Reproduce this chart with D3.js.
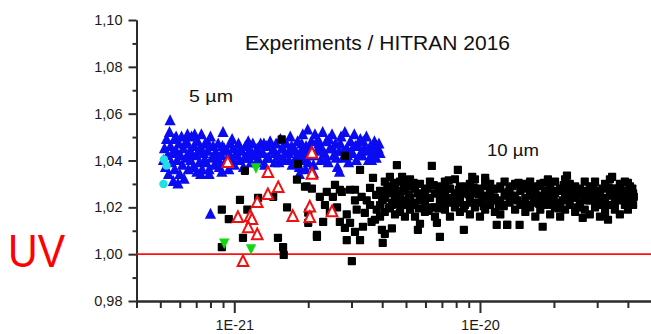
<!DOCTYPE html>
<html>
<head>
<meta charset="utf-8">
<script src="https://cdn.jsdelivr.net/npm/d3@7"></script>
<style>
  html, body { margin: 0; padding: 0; background: #fff; }
  svg { display: block; font-family: Arial, "Liberation Sans", sans-serif; }
</style>
</head>
<body>
<svg id="chart" width="651" height="334"></svg>
<script>
// Line intensity in units of 1E-21 (log axis) vs. ratio Experiments / HITRAN 2016

// 5 µm band (blue up-triangles)
const band5 = [
  [0.515,1.040],[0.52,1.045],[0.525,1.037],[0.53,1.049],[0.535,1.042],[0.54,1.034],[0.545,1.052],[0.548,1.057],
  [0.55,1.046],[0.555,1.039],[0.56,1.043],[0.565,1.031],[0.57,1.049],[0.572,1.036],[0.58,1.044],[0.585,1.040],
  [0.59,1.030],[0.595,1.047],[0.60,1.034],[0.605,1.042],[0.61,1.050],[0.615,1.038],[0.62,1.045],[0.625,1.032],
  [0.635,1.041],[0.64,1.048],[0.645,1.051],[0.65,1.036],[0.66,1.044],[0.665,1.040],[0.67,1.050],[0.68,1.037],
  [0.685,1.046],[0.69,1.051],[0.70,1.042],[0.705,1.035],[0.71,1.048],[0.72,1.039],[0.725,1.045],
  [0.735,1.051],[0.74,1.036],[0.75,1.043],[0.76,1.047],[0.77,1.039],[0.78,1.044],[0.79,1.036],[0.80,1.050],
  [0.81,1.041],[0.82,1.046],[0.83,1.038],[0.845,1.043],[0.86,1.047],[0.87,1.037],[0.885,1.042],[0.90,1.052],
  [0.91,1.045],[0.92,1.039],[0.935,1.044],[0.95,1.036],[0.96,1.047],[0.975,1.041],[0.99,1.045],[1.00,1.038],
  [1.02,1.043],[1.04,1.047],[1.05,1.040],[1.07,1.044],[1.09,1.037],[1.11,1.046],[1.13,1.041],[1.15,1.044],
  [1.17,1.039],[1.19,1.047],[1.21,1.042],[1.24,1.045],[1.26,1.040],[1.28,1.047],[1.31,1.043],[1.33,1.038],
  [1.35,1.046],[1.38,1.041],[1.40,1.048],[1.43,1.044],[1.46,1.039],[1.48,1.047],[1.51,1.042],[1.54,1.049],
  [1.57,1.045],[1.60,1.040],[1.63,1.047],[1.66,1.043],[1.69,1.050],[1.72,1.038],[1.75,1.045],[1.78,1.041],
  [1.81,1.048],[1.84,1.037],[1.87,1.044],[1.90,1.051],[1.93,1.040],[1.96,1.046],[1.99,1.053],[2.02,1.042],
  [2.06,1.048],[2.10,1.038],[2.13,1.051],[2.17,1.044],[2.21,1.047],[2.25,1.040],[2.29,1.052],[2.33,1.043],
  [2.37,1.048],[2.41,1.039],[2.45,1.045],[2.50,1.051],[2.54,1.042],[2.58,1.047],[2.63,1.037],[2.68,1.044],
  [2.72,1.050],[2.77,1.041],[2.82,1.052],[2.87,1.045],[2.92,1.039],[2.97,1.048],[3.03,1.043],[3.08,1.051],
  [3.14,1.040],[3.20,1.046],[3.26,1.049],[3.32,1.042],[3.38,1.045],[3.45,1.050],[3.52,1.040],[3.58,1.046],
  [3.65,1.043],[3.72,1.048],[3.78,1.041],[3.85,1.045],[3.92,1.043],
  [0.73,1.034],[0.79,1.034],[0.89,1.035],[1.84,1.034],[2.68,1.035],[1.95,1.036],[2.10,1.0345],[0.80,1.017],
  [0.58,1.050],[0.63,1.047],[0.67,1.043],[0.715,1.044],[0.755,1.040],[0.785,1.047],[0.825,1.042],[0.865,1.040],
  [0.895,1.046],[0.94,1.041],[0.98,1.049],[1.01,1.042],[1.06,1.045],[1.10,1.041],[1.14,1.048],[1.18,1.043],
  [1.23,1.039],[1.27,1.044],[1.32,1.047],[1.36,1.041],[1.42,1.046],[1.47,1.043],[1.52,1.039],[1.56,1.045],
  [1.61,1.043],[1.67,1.040],[1.71,1.046],[1.77,1.044],[1.83,1.042],[1.88,1.047],[1.94,1.043],[2.00,1.039],
  [2.04,1.045],[2.11,1.042],[2.19,1.049],[2.27,1.045],[2.35,1.040],[2.43,1.049],[2.52,1.045],[2.60,1.041],
  [2.70,1.047],[2.79,1.044],[2.89,1.042],[2.99,1.044],[3.11,1.046],[3.23,1.042],[3.35,1.048],[3.48,1.044],
  [3.62,1.040],[3.75,1.045],[3.88,1.047]
];

// 5 µm band, second set (cyan circles)
const band5b = [[0.517,1.0405],[0.53,1.0378],[0.515,1.030]];

// 10 µm band (black squares)
const band10 = [
  // lines among the 5 µm cluster
  [1.56,1.049],[2.82,1.042],[1.82,1.0386],[1.105,1.0356],[1.80,1.0318],[3.25,1.036],[1.97,1.029],[3.67,1.0326],
  // scattered weak lines
  [1.055,1.0232],[1.25,1.024],[1.13,1.019],[0.95,1.015],[0.89,1.019],[1.44,1.0245],[1.64,1.020],[1.085,1.007],
  [0.89,1.003],[1.506,1.007],[1.58,1.003],[1.59,0.9997],[1.94,1.0288],[2.07,1.028],[2.23,1.0245],[2.0,1.0177],
  [2.30,1.0138],[2.0,1.0134],[2.17,1.0082],[2.87,1.006],[3.01,0.997],[2.52,1.0245],[2.62,1.020],[2.87,1.017],
  [2.96,1.0134],[3.34,1.0117],[3.15,1.019],[3.46,1.023],[3.80,1.019],[4.02,1.023],[4.02,1.0048],[4.10,1.0087],
  [3.92,1.016],[2.96,1.0275],[2.45,1.0176],[2.69,1.0275],[3.10,1.023],[3.57,1.0283],[3.74,1.0147],[4.51,1.017],
  [4.38,1.011],[4.62,1.025],[3.40,1.0176],[2.82,1.0112],[2.34,1.021],[3.25,1.006],[2.17,1.0074],[6.87,1.0074],
  [8.6,1.0104],
  [2.57,1.0296],[2.74,1.0266],[3.10,1.0275],[3.30,1.0245],[3.57,1.021],[3.78,1.0253],[4.22,1.0275],[4.38,1.021],
  [2.69,1.0138],[3.10,1.0095],[3.62,1.0138],[2.38,1.0266],
  // main 10 µm band
  [3.92,1.027],[3.92,1.021],[4.10,1.031],[4.10,1.018],[4.10,1.024],[4.30,1.026],[4.30,1.020],[4.30,1.033],
  [4.51,1.029],[4.51,1.023],[4.59,1.038],[4.73,1.025],[4.73,1.018],[4.73,1.031],[4.82,1.033],[4.95,1.027],
  [4.95,1.021],[4.95,1.016],[5.19,1.032],[5.19,1.024],[5.19,1.019],[5.44,1.028],[5.44,1.022],[5.44,1.016],
  [5.70,1.025],[5.70,1.030],[5.70,1.013],[5.97,1.027],[5.97,1.021],[5.97,1.018],[6.26,1.031],[6.26,1.024],
  [6.37,1.0377],[6.56,1.026],[6.56,1.020],[6.56,1.016],[6.87,1.029],[6.87,1.023],[7.20,1.025],[7.20,1.019],
  [7.20,1.031],[7.55,1.028],[7.55,1.022],[7.55,1.016],[7.91,1.026],[7.91,1.032],[7.91,1.020],[8.13,1.036],
  [8.29,1.024],[8.29,1.029],[8.29,1.018],[8.69,1.027],[8.69,1.021],[9.10,1.030],[9.10,1.024],[9.10,1.017],
  [9.3,1.033],[9.54,1.026],[9.54,1.032],[9.54,1.020],[10.0,1.028],[10.0,1.022],[10.0,1.016],[10.5,1.031],
  [10.5,1.025],[10.5,1.019],[10.5,1.0326],[11.0,1.027],[11.0,1.021],[11.0,1.030],[11.5,1.024],[11.5,1.018],
  [11.7,1.0125],[12.1,1.029],[12.1,1.023],[12.1,1.017],[12.6,1.026],[12.6,1.031],[12.9,1.0125],[13.2,1.028],
  [13.2,1.022],[13.9,1.025],[13.9,1.019],[13.9,1.030],[14.5,1.0125],[14.6,1.027],[14.6,1.021],[15.3,1.030],
  [15.3,1.024],[15.3,1.018],[16.0,1.026],[16.0,1.020],[16.0,1.031],[16.8,1.028],[16.8,1.022],[16.8,1.016],
  [17.6,1.025],[17.6,1.030],[17.6,1.019],[18.0,1.0117],[18.4,1.027],[18.4,1.021],[18.9,1.032],[19.3,1.029],
  [19.3,1.023],[19.3,1.017],[20.2,1.026],[20.2,1.031],[20.2,1.020],[21.2,1.028],[21.2,1.022],[21.2,1.016],
  [22.2,1.032],[22.2,1.025],[22.2,1.019],[22.6,1.0335],[23.2,1.027],[23.2,1.021],[23.2,1.030],[24.4,1.024],
  [24.4,1.018],[24.4,1.029],[25.5,1.028],[25.5,1.022],[26.2,1.0155],[26.7,1.026],[26.7,1.031],[26.7,1.019],
  [28.0,1.029],[28.0,1.023],[28.0,1.017],[29.4,1.025],[29.4,1.020],[29.4,1.031],[30.8,1.027],[30.8,1.021],
  [30.8,1.016],[32.3,1.030],[32.3,1.024],[32.3,1.018],[33.2,1.0147],[33.8,1.026],[33.8,1.032],[34.5,1.033],
  [35.4,1.028],[35.4,1.022],[35.4,1.019],[37.1,1.025],[37.1,1.030],[37.1,1.017],[38.9,1.027],[38.9,1.021],
  [38.9,1.031],[40.0,1.019],[40.0,1.0305],[40.8,1.024],[40.8,1.029],[41.5,1.023],[42.0,1.026],[42.0,1.021],
  [5.59,1.0104],[6.68,1.0134],[3.99,1.0104],[12.9,1.0125],
  [4.0,1.024],[4.2,1.029],[4.4,1.022],[4.62,1.027],[4.84,1.023],[5.07,1.029],[5.31,1.021],[5.57,1.026],
  [5.83,1.023],[6.11,1.028],[6.41,1.020],[6.71,1.026],[7.03,1.022],[7.37,1.028],[7.73,1.024],[8.1,1.022],
  [8.49,1.026],[8.89,1.029],[9.32,1.022],[9.77,1.027],[10.24,1.024],[10.73,1.029],[11.24,1.023],[11.8,1.028],
  [12.35,1.021],[12.9,1.025],[13.55,1.029],[14.2,1.023],[14.9,1.028],[15.65,1.021],[16.4,1.025],[17.2,1.029],
  [18.0,1.023],[18.85,1.026],[19.75,1.021],[20.7,1.027],[21.7,1.023],[22.7,1.028],[23.8,1.025],[24.9,1.020],
  [26.1,1.027],[27.35,1.023],[28.7,1.026],[30.1,1.023],[31.5,1.028],[33.0,1.021],[34.6,1.025],[36.2,1.028],
  [38.0,1.023],[39.8,1.026],[41.7,1.028],
  [4.05,1.0255],[4.25,1.0195],[4.45,1.0305],[4.68,1.0215],[4.9,1.0295],[5.13,1.0255],[5.37,1.0305],[5.64,1.0195],
  [5.9,1.0245],[6.18,1.0185],[6.48,1.0295],[6.79,1.0195],[7.12,1.0275],[7.46,1.0315],[7.82,1.0235],[8.2,1.0275],
  [8.59,1.0195],[9.0,1.0255],[9.43,1.0285],[9.88,1.0255],[10.36,1.0205],[10.86,1.0245],[11.38,1.0275],[11.95,1.0205],
  [12.5,1.0205],[13.05,1.0265],[13.7,1.0235],[14.35,1.0305],[15.1,1.0215],[15.8,1.0285],[16.6,1.0235],[17.4,1.0215],
  [18.2,1.0305],[19.05,1.0255],[19.95,1.0245],[20.9,1.0195],[21.9,1.0295],[22.95,1.0235],[24.1,1.0275],[25.2,1.0255],
  [26.4,1.0235],[27.7,1.0265],[29.0,1.0285],[30.4,1.0245],[31.9,1.0215],[33.4,1.0285],[35.0,1.0255],[36.6,1.0235],
  [38.4,1.0265],[40.3,1.0215],[42.3,1.0245]
];

// UV measurements (red open triangles)
const uvA = [
  [0.94,1.039],[2.07,1.043],[2.07,1.034],[1.37,1.0347],[1.51,1.0283],[1.37,1.0253],[1.24,1.0219],[1.035,1.0155],
  [1.16,1.016],[1.18,1.0147],[1.14,1.0112],[1.24,1.0082],[1.73,1.016],[2.03,1.020],[2.03,1.0155],[2.5,1.018],
  [1.085,0.9967]
];

// UV measurements, second set (green down-triangles)
const uvB = [[1.225,1.0369],[0.91,1.0048],[1.17,1.0023]];

// Axis ticks
const yMajor = [0.98, 1.00, 1.02, 1.04, 1.06, 1.08, 1.10];
const yMinor = [0.99, 1.01, 1.03, 1.05, 1.07, 1.09];
const xMajor = [1, 10];
const xMajorLabels = ["1E-21", "1E-20"];
const xMinor = [0.4, 0.5, 0.6, 0.7, 0.8, 0.9, 2, 3, 4, 5, 6, 7, 8, 9, 20, 30, 40];

const svg = d3.select("#chart");

const x = d3.scaleLog().domain([0.4, 50]).range([136.5, 651.7]);
const y = d3.scaleLinear().domain([0.98, 1.10]).range([301, 20]);

const axisColor = "#2b2b2b";

function styleAxis(g) {
  g.attr("font-family", "Arial, 'Liberation Sans', sans-serif").attr("font-size", 14.5);
  g.selectAll("path.domain").attr("stroke", axisColor).attr("stroke-width", 2);
  g.selectAll(".tick line").attr("stroke", axisColor).attr("stroke-width", 2);
  g.selectAll(".tick text").attr("fill", "#1a1a1a");
}

// y axis: minor then major ticks
svg.append("g")
  .attr("transform", "translate(136.5,0)")
  .call(d3.axisLeft(y).tickValues(yMinor).tickSize(4).tickSizeOuter(0).tickFormat(""))
  .call(styleAxis);
svg.append("g")
  .attr("transform", "translate(136.5,0)")
  .call(d3.axisLeft(y).tickValues(yMajor).tickSize(8).tickSizeOuter(0).tickPadding(6)
        .tickFormat(d => d3.format(".2f")(d).replace(".", ",")))
  .call(styleAxis);

// x axis: minor then major ticks
svg.append("g")
  .attr("transform", "translate(0,301)")
  .call(d3.axisBottom(x).tickValues(xMinor).tickSize(7).tickSizeOuter(0).tickFormat(""))
  .call(styleAxis);
svg.append("g")
  .attr("transform", "translate(0,301)")
  .call(d3.axisBottom(x).tickValues(xMajor).tickSize(12).tickSizeOuter(0).tickPadding(7)
        .tickFormat((d, i) => xMajorLabels[i]))
  .call(styleAxis);

// reference line at ratio 1
svg.append("line")
  .attr("x1", x(0.4)).attr("x2", 651)
  .attr("y1", y(1)).attr("y2", y(1))
  .attr("stroke", "#ff1010").attr("stroke-width", 1.8);

const plot = svg.append("g");

// marker shapes (centred on the data point)
const triUp = "M0,-6.5L5.6,4.5L-5.6,4.5Z";
const triOpen = "M0,-6.5L5.3,4.2L-5.3,4.2Z";
const triDown = "M0,6L5.2,-4.5L-5.2,-4.5Z";

plot.append("g").selectAll("path").data(band5).join("path")
  .attr("d", triUp)
  .attr("transform", d => `translate(${x(d[0])},${y(d[1])})`)
  .attr("fill", "#0b0bf2");

plot.append("g").selectAll("circle").data(band5b).join("circle")
  .attr("cx", d => x(d[0])).attr("cy", d => y(d[1])).attr("r", 4.2)
  .attr("fill", "#1ee0e6");

const sq = 8.2;
plot.append("g").selectAll("rect").data(band10).join("rect")
  .attr("x", d => x(d[0]) - sq / 2).attr("y", d => y(d[1]) - sq / 2)
  .attr("width", sq).attr("height", sq).attr("rx", 0.8)
  .attr("fill", "#000");

plot.append("g").selectAll("path").data(uvA).join("path")
  .attr("d", triOpen)
  .attr("transform", d => `translate(${x(d[0])},${y(d[1])})`)
  .attr("fill", "#fff").attr("stroke", "#f01010").attr("stroke-width", 2);

plot.append("g").selectAll("path").data(uvB).join("path")
  .attr("d", triDown)
  .attr("transform", d => `translate(${x(d[0])},${y(d[1])})`)
  .attr("fill", "#12d812");

// annotations
svg.append("text").attr("x", 245).attr("y", 50)
  .attr("font-size", 19.5).attr("fill", "#111")
  .attr("textLength", 265).attr("lengthAdjust", "spacingAndGlyphs")
  .text("Experiments / HITRAN 2016");

svg.append("text").attr("x", 189).attr("y", 102)
  .attr("font-size", 17).attr("fill", "#111")
  .attr("textLength", 44).attr("lengthAdjust", "spacingAndGlyphs")
  .text("5 µm");

svg.append("text").attr("x", 487).attr("y", 156)
  .attr("font-size", 17).attr("fill", "#111")
  .attr("textLength", 52).attr("lengthAdjust", "spacingAndGlyphs")
  .text("10 µm");

svg.append("text").attr("x", 8).attr("y", 267)
  .attr("font-size", 47).attr("fill", "#ff0000")
  .attr("textLength", 57).attr("lengthAdjust", "spacingAndGlyphs")
  .text("UV");
</script>
</body>
</html>
